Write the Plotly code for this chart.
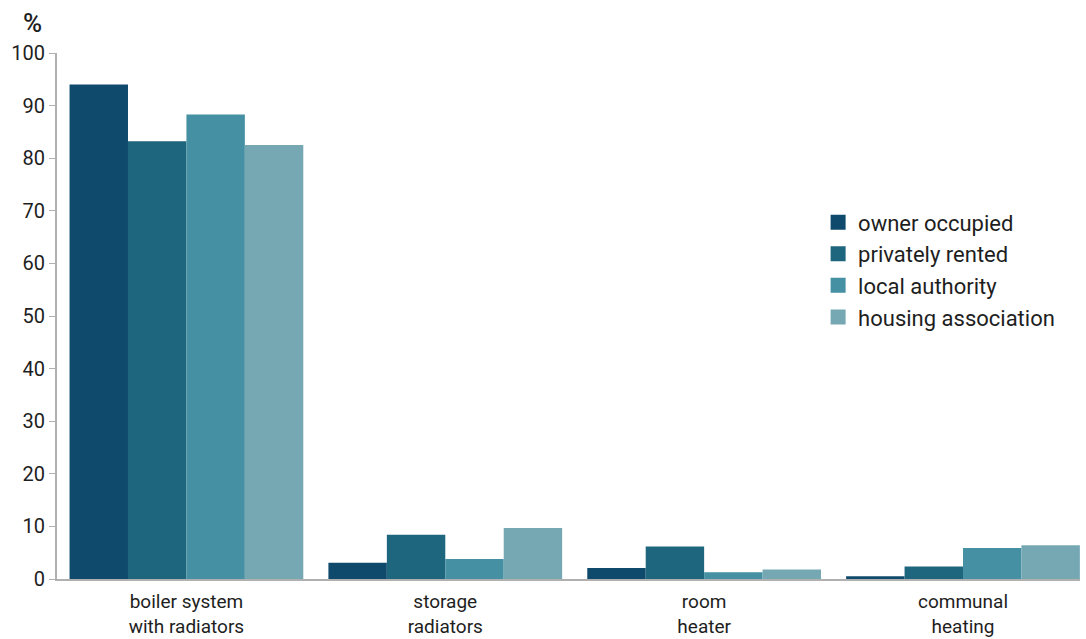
import plotly.graph_objects as go

# Heating system by tenure (% of dwellings)
categories = ["boiler system<br>with radiators", "storage<br>radiators", "room<br>heater", "communal<br>heating"]
owner_occupied = [94.0, 3.1, 2.1, 0.5]
privately_rented = [83.2, 8.4, 6.2, 2.4]
local_authority = [88.3, 3.8, 1.3, 5.9]
housing_association = [82.5, 9.7, 1.8, 6.4]

series = [
    ("owner occupied", owner_occupied, "#0f4a6c"),
    ("privately rented", privately_rented, "#1e657e"),
    ("local authority", local_authority, "#4590a2"),
    ("housing association", housing_association, "#76a8b4"),
]

FONT = "Roboto, Lato, sans-serif"
TEXT = "#1e1e1e"
AXIS = "#b0b0b0"

fig = go.Figure()
for name, vals, color in series:
    # bars carry the data; a square-marker proxy carries the legend swatch
    fig.add_trace(go.Bar(
        x=categories, y=vals, name=name, showlegend=False,
        marker=dict(color=color, line=dict(width=0)),
    ))
    fig.add_trace(go.Scatter(
        x=[None], y=[None], name=name, mode="markers", legendgroup=name,
        marker=dict(symbol="square", size=15, color=color),
    ))

fig.update_layout(
    width=1086, height=639,
    margin=dict(l=57, r=6, t=53, b=60),
    paper_bgcolor="white", plot_bgcolor="white",
    barmode="group", bargap=0.097, bargroupgap=0,
    font=dict(family=FONT, size=20, color=TEXT),
    showlegend=True,
    legend=dict(
        x=0.744, y=0.718, xanchor="left", yanchor="top",
        font=dict(family=FONT, size=22, color=TEXT),
        tracegroupgap=0, itemsizing="trace",
        bgcolor="rgba(0,0,0,0)",
    ),
    xaxis=dict(
        range=[-0.5, 3.452], showgrid=False, zeroline=False,
        showline=True, linecolor=AXIS, linewidth=2, automargin=False,
        ticks="", tickfont=dict(family=FONT, size=19, color=TEXT),
        ticklabelstandoff=4,
    ),
    yaxis=dict(
        range=[0, 100], dtick=10, showgrid=False, zeroline=False,
        showline=True, linecolor=AXIS, linewidth=2, automargin=False,
        ticks="outside", ticklen=6, tickcolor=AXIS, tickwidth=1,
        tickfont=dict(family=FONT, size=20, color=TEXT),
    ),
    annotations=[dict(
        text="%", xref="paper", yref="paper", x=-0.024, y=1.0,
        xanchor="center", yanchor="bottom", yshift=13, showarrow=False,
        font=dict(family=FONT, size=26, color=TEXT, weight=500),
    )],
)

fig.write_html("out.html")
